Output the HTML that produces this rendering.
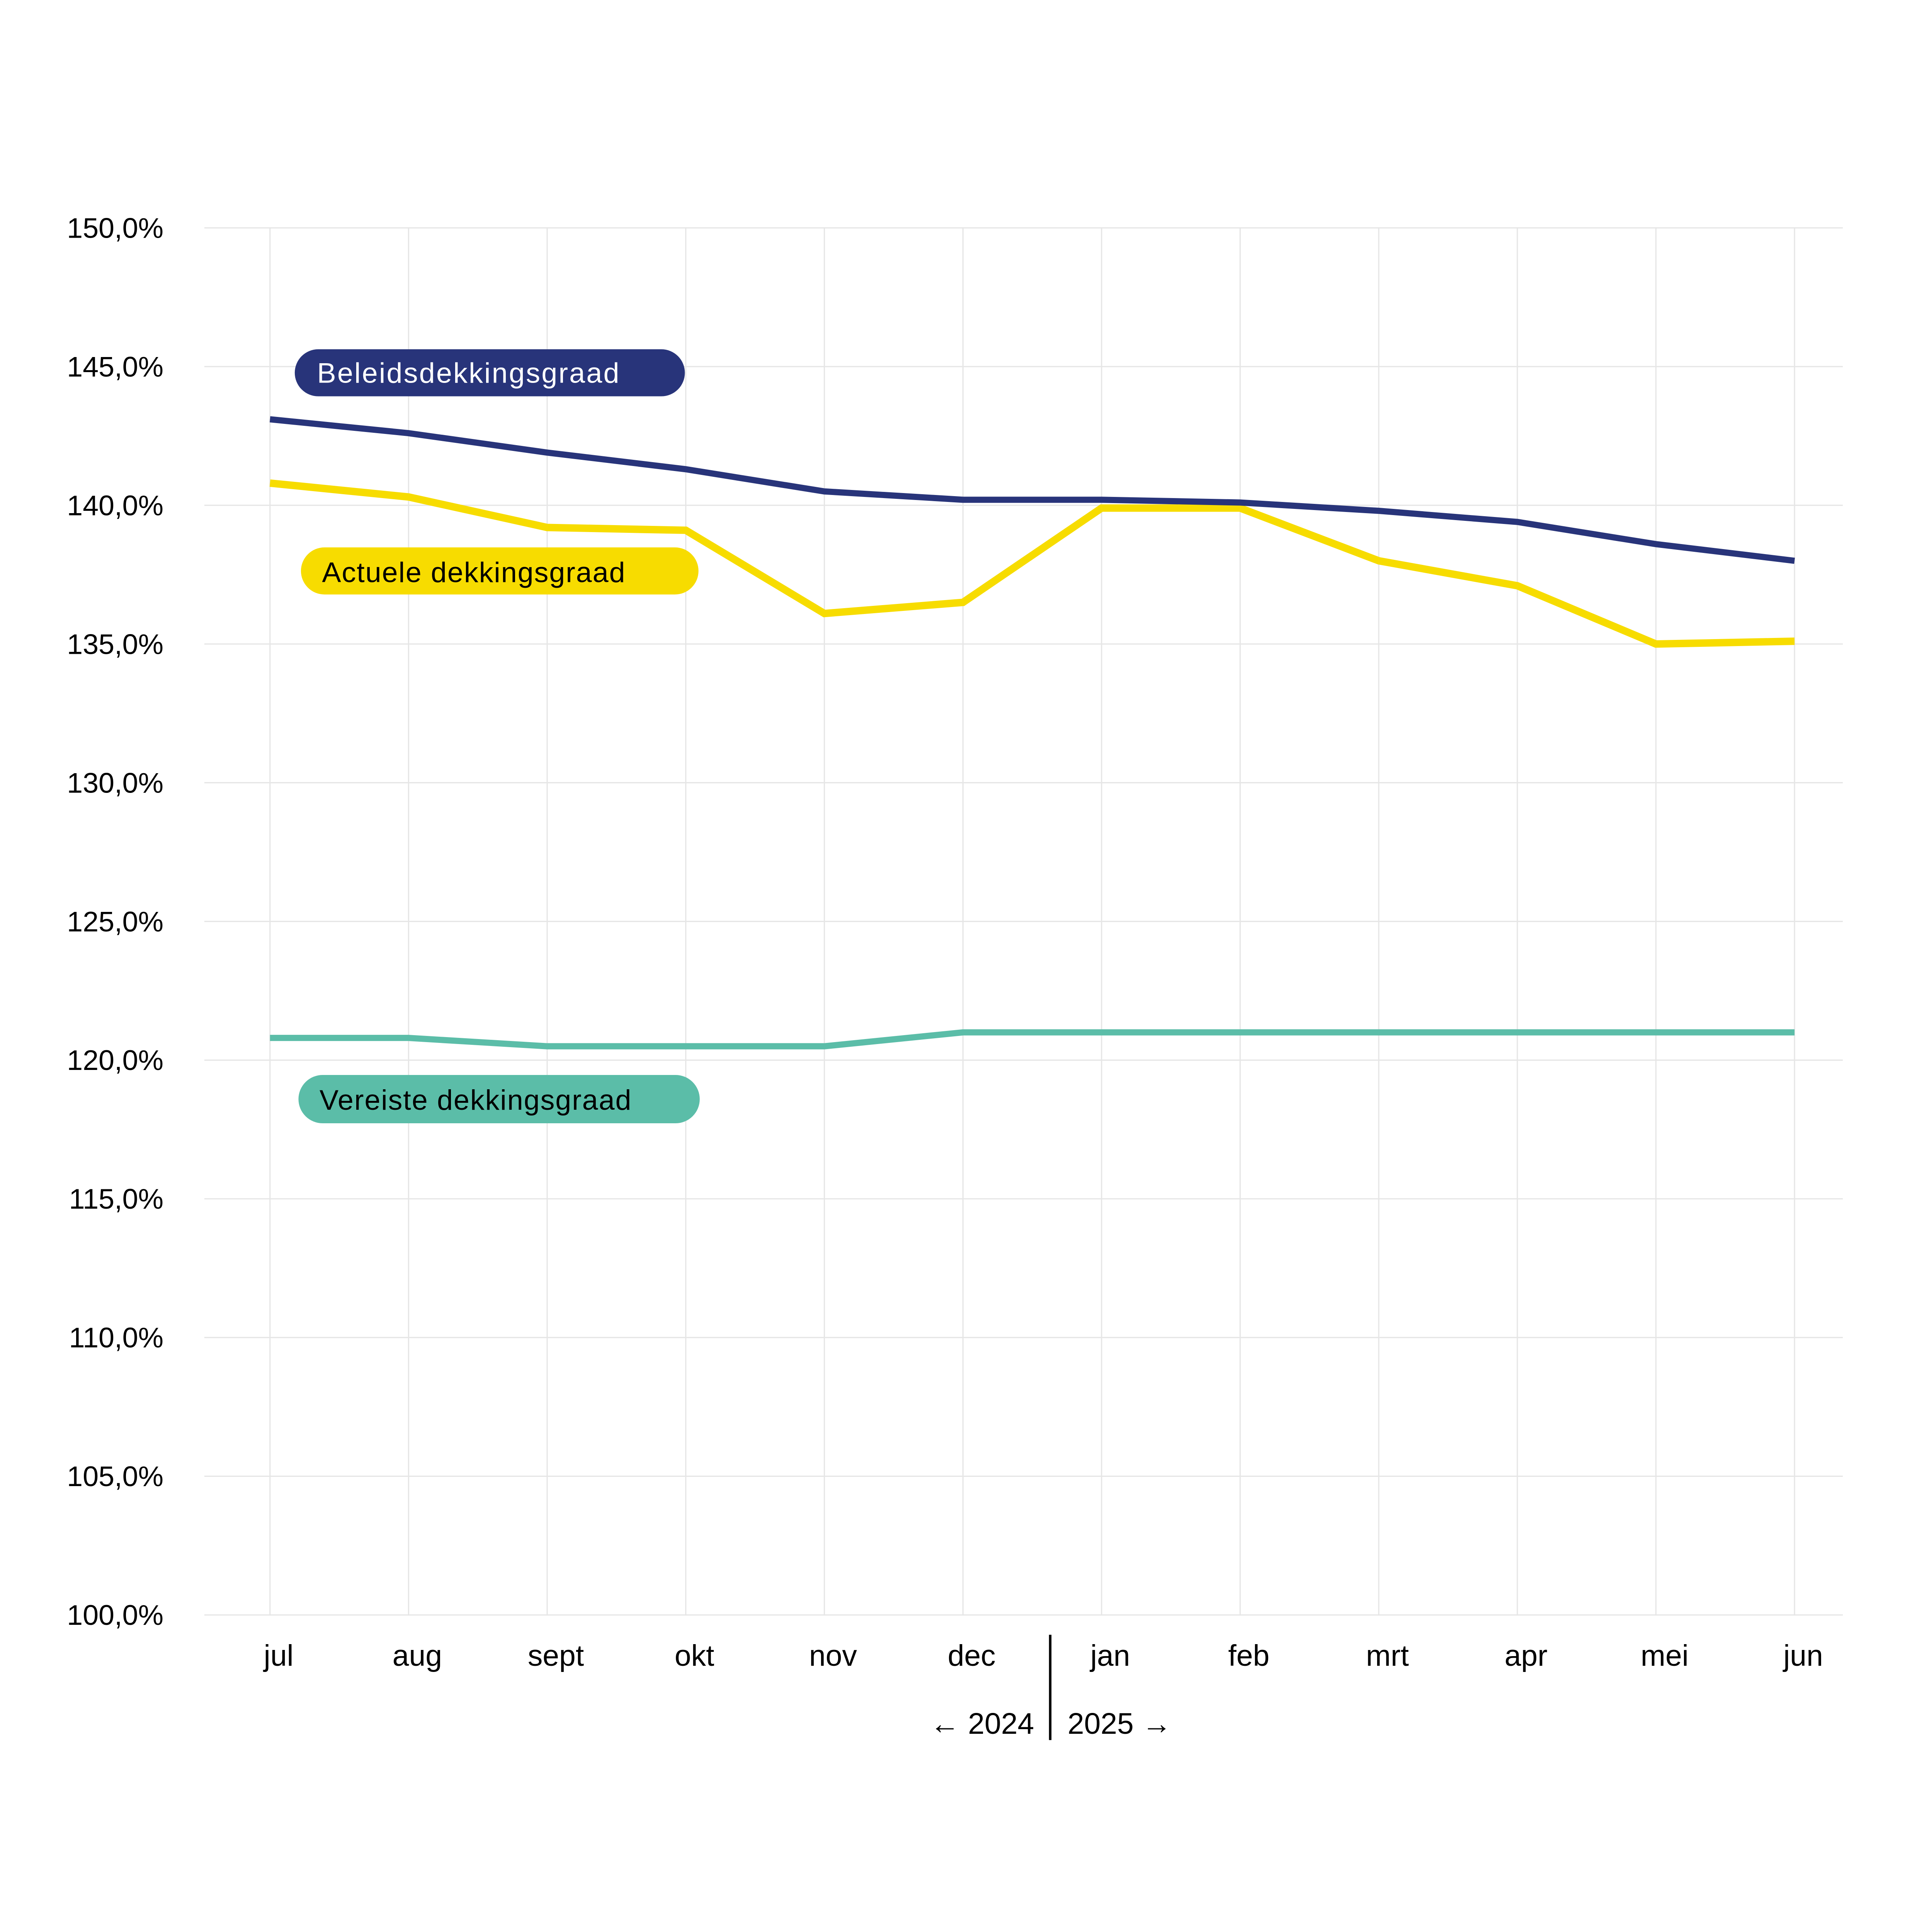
<!DOCTYPE html>
<html><head><meta charset="utf-8"><style>
html,body{margin:0;padding:0;background:#fff;width:100%;height:100%;overflow:hidden;}
svg{display:block;width:100vw;height:100vh;}
text{font-family:"Liberation Sans",sans-serif;}
</style></head><body>
<svg id="chart" viewBox="0 0 1560 1560" preserveAspectRatio="xMidYMid meet" xmlns="http://www.w3.org/2000/svg">
<g id="grid"></g>
<g id="yaxis"></g>
<g id="xaxis"></g>
<g id="series"></g>
<g>
<line x1="848" y1="1320" x2="848" y2="1405" stroke="#000" stroke-width="2"/>
<text x="835" y="1400" text-anchor="end" font-size="24" fill="#000">← 2024</text>
<text x="862" y="1400" font-size="24" fill="#000">2025 →</text>
</g>
<g>
<rect x="238" y="282" width="315" height="38" rx="19" fill="#28347a"/>
<text x="256" y="309" font-size="23" fill="#fff" letter-spacing="1">Beleidsdekkingsgraad</text>
</g>
<g>
<rect x="243" y="442" width="321" height="38" rx="19" fill="#f7dc00"/>
<text x="260" y="470" font-size="23" fill="#000" letter-spacing="0.6">Actuele dekkingsgraad</text>
</g>
<g>
<rect x="241" y="868" width="324" height="39" rx="19.5" fill="#5bbda8"/>
<text x="258" y="896" font-size="23" fill="#000" letter-spacing="0.6">Vereiste dekkingsgraad</text>
</g>
</svg>
<script>
const months = ["jul","aug","sept","okt","nov","dec","jan","feb","mrt","apr","mei","jun"];
const yTicks = [100,105,110,115,120,125,130,135,140,145,150];
const beleids = [143.1,142.6,141.9,141.3,140.5,140.2,140.2,140.1,139.8,139.4,138.6,138.0];
const actuele = [140.8,140.3,139.2,139.1,136.1,136.5,139.9,139.9,138.0,137.1,135.0,135.1];
const vereiste = [120.8,120.8,120.5,120.5,120.5,121.0,121.0,121.0,121.0,121.0,121.0,121.0];

const NS="http://www.w3.org/2000/svg";
const x0=218, x1=1449, yTop=184, yBot=1304, yMin=100, yMax=150;
const xs=i=>x0+(x1-x0)*i/(months.length-1);
const ys=v=>yBot-(v-yMin)/(yMax-yMin)*(yBot-yTop);
function mk(tag,attrs,parent){const e=document.createElementNS(NS,tag);for(const k in attrs)e.setAttribute(k,attrs[k]);parent.appendChild(e);return e;}
const grid=document.getElementById('grid'),ya=document.getElementById('yaxis'),xa=document.getElementById('xaxis'),se=document.getElementById('series');
yTicks.forEach(t=>{
  const l=mk('line',{x1:165,x2:1488,y1:ys(t),y2:ys(t),stroke:'#e6e6e6','stroke-width':1},grid);
  
  
  const tx=mk('text',{x:132,y:ys(t)+8,'text-anchor':'end','font-size':23,fill:'#000'},ya);
  tx.textContent=t.toFixed(1).replace('.',',')+'%';
  
  
});
months.forEach((m,i)=>{
  const l=mk('line',{x1:xs(i),x2:xs(i),y1:yTop,y2:yBot,stroke:'#e6e6e6','stroke-width':1},grid);
  
  
  const tx=mk('text',{x:xs(i)+7,y:1345,'text-anchor':'middle','font-size':24,fill:'#000'},xa);
  tx.textContent=m;
  
  
});
function line(vals,color,w,name){
  const p=mk('polyline',{points:vals.map((v,i)=>xs(i)+','+ys(v)).join(' '),fill:'none',stroke:color,'stroke-width':w,'stroke-linejoin':'miter'},se);
  
  
}
line(vereiste,'#5bbda8',5,'vereiste-line');
line(actuele,'#f7dc00',6,'actuele-line');
line(beleids,'#28347a',5,'beleids-line');
</script>
</body></html>
